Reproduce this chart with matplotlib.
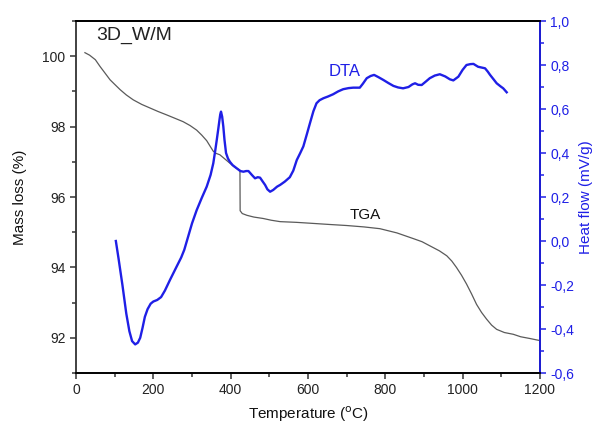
import matplotlib
matplotlib.use("Agg")
import matplotlib.pyplot as plt
from matplotlib.ticker import MultipleLocator, FuncFormatter

plt.rcParams['font.family'] = ['Liberation Sans', 'DejaVu Sans']

# TGA data (temperature °C, mass %)
tga_T = [23, 35, 50, 62, 75, 88, 100, 114, 130, 148, 170, 191, 212, 235, 255, 277,
         295, 312, 325, 338, 347, 355, 362, 372, 385, 398, 410, 424,
         424.5, 430, 442, 460, 484, 505, 528, 570, 613, 655, 700, 745, 786, 830,
         872, 895, 914, 940, 959, 972, 984, 997, 1010, 1023, 1036, 1049, 1062,
         1075, 1088, 1108, 1131, 1150, 1174, 1196]
tga_m = [100.1, 100.03, 99.9, 99.71, 99.52, 99.33, 99.2, 99.05, 98.9, 98.76, 98.63,
         98.53, 98.43, 98.33, 98.24, 98.14, 98.03, 97.9, 97.76, 97.6, 97.44, 97.3,
         97.24, 97.2, 97.08, 96.96, 96.85, 96.76,
         95.61, 95.53, 95.48, 95.43, 95.39, 95.34, 95.3, 95.28, 95.25, 95.22, 95.19,
         95.15, 95.1, 94.98, 94.82, 94.73, 94.62, 94.47, 94.33, 94.18, 94.0, 93.78,
         93.53, 93.25, 92.95, 92.72, 92.53, 92.36, 92.24, 92.15, 92.1, 92.03,
         91.98, 91.93]

# DTA data (temperature °C, heat flow mV/g)
dta_T = [103, 110, 120, 130, 138, 145, 153, 160, 166, 172, 178, 185, 193, 200, 210,
         220, 230, 243, 260, 272, 280, 290, 300, 312, 325, 338, 348, 355, 360, 364,
         368, 371, 373, 375, 378, 381, 384, 388, 393, 398, 405, 416, 425, 433, 440,
         446, 455, 463, 470, 476, 483, 489, 495, 502, 510, 520, 528, 540, 553, 562,
         571, 580, 588, 597, 605, 614, 622, 630, 640, 652, 665, 678, 691, 705, 717,
         734, 742, 752, 762, 771, 782, 795, 808, 821, 833, 846, 860, 870, 877, 885,
         894, 905, 915, 928, 941, 955, 967, 976, 989, 1000, 1010, 1020, 1028, 1040,
         1058, 1065, 1071, 1080, 1088, 1098, 1105, 1114]
dta_v = [0.0, -0.08, -0.2, -0.33, -0.41, -0.455, -0.47, -0.462, -0.44, -0.395,
         -0.345, -0.31, -0.285, -0.275, -0.268, -0.255, -0.225, -0.177, -0.117,
         -0.075, -0.04, 0.02, 0.08, 0.14, 0.195, 0.247, 0.3, 0.353, 0.41, 0.459,
         0.51, 0.55, 0.575, 0.588, 0.565, 0.52, 0.46, 0.4, 0.375, 0.36, 0.345, 0.33,
         0.318, 0.315, 0.318, 0.318, 0.3, 0.285, 0.29, 0.288, 0.27, 0.255, 0.235,
         0.224, 0.232, 0.247, 0.255, 0.27, 0.29, 0.32, 0.368, 0.4, 0.43, 0.485,
         0.535, 0.59, 0.626, 0.64, 0.649, 0.657, 0.667, 0.68, 0.69, 0.695, 0.697,
         0.697, 0.715, 0.74, 0.75, 0.755, 0.745, 0.732, 0.718, 0.705, 0.698, 0.694,
         0.7, 0.712, 0.717, 0.71, 0.709, 0.725, 0.74, 0.752, 0.758, 0.748, 0.735,
         0.73, 0.747, 0.778, 0.8, 0.804, 0.805, 0.792, 0.785, 0.77, 0.755, 0.735,
         0.717, 0.703, 0.694, 0.676]

blue = '#1f1fe6'

fig = plt.figure(figsize=(5.94, 4.26), dpi=100)
ax = fig.add_axes([0.128, 0.1244, 0.781, 0.8263])
ax2 = ax.twinx()

ax.plot(tga_T, tga_m, color='#5a5a5a', lw=0.9)
ax2.plot(dta_T, dta_v, color=blue, lw=1.7)

ax.set_xlim(0, 1200)
ax.set_ylim(91, 101)
ax2.set_ylim(-0.6, 1.0)

ax.xaxis.set_major_locator(MultipleLocator(200))
ax.xaxis.set_minor_locator(MultipleLocator(100))
ax.yaxis.set_major_locator(MultipleLocator(2))
ax.yaxis.set_minor_locator(MultipleLocator(1))
ax2.yaxis.set_major_locator(MultipleLocator(0.2))
ax2.yaxis.set_minor_locator(MultipleLocator(0.1))
ax2.yaxis.set_major_formatter(FuncFormatter(lambda v, p: f"{v:.1f}".replace('.', ',').replace('-0,0', '0,0')))

for a in (ax, ax2):
    for s in a.spines.values():
        s.set_linewidth(1.3)
ax.spines['left'].set_color('#333333')
ax.spines['bottom'].set_color('#333333')
ax.spines['top'].set_color('#111111')
ax2.spines['right'].set_color(blue)
ax2.spines['left'].set_visible(False)

ax.tick_params(axis='both', which='major', direction='out', length=4, width=1.1,
               labelsize=10, colors='#333333', labelcolor='#222222')
ax.tick_params(axis='both', which='minor', direction='out', length=3, width=1.1, colors='#333333')
ax.tick_params(top=False, which='both')
ax2.tick_params(axis='y', which='major', direction='out', length=4, width=1.1,
                labelsize=10, colors=blue, labelcolor=blue)
ax2.tick_params(axis='y', which='minor', direction='out', length=3, width=1.1, colors=blue)

ax.set_xlabel('Temperature ($^{\\rm o}$C)', fontsize=11, color='#111111', labelpad=5)
ax.set_ylabel('Mass loss (%)', fontsize=11, color='#111111', labelpad=11)
ax2.set_ylabel('Heat flow (mV/g)', fontsize=11, color=blue, labelpad=3)

ax.text(52, 100.6, '3D_W/M', fontsize=14, color='#222222', va='center', ha='left')
ax.text(747, 95.5, 'TGA', fontsize=11, color='#111111', va='center', ha='center')
ax2.text(696, 0.77, 'DTA', fontsize=12, color=blue, va='center', ha='center')

fig.savefig('out.png', dpi=100)
